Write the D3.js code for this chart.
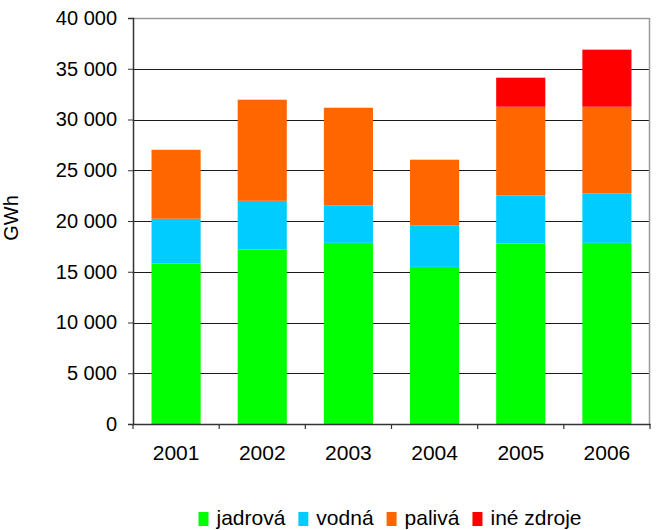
<!DOCTYPE html>
<html>
<head>
<meta charset="utf-8">
<script src="https://cdn.jsdelivr.net/npm/d3@7"></script>
<style>
  html, body { margin: 0; padding: 0; background: #fff; }
  svg { display: block; font-family: "Liberation Sans", Arial, sans-serif; }
</style>
</head>
<body>
<svg id="chart" width="659" height="530"></svg>
<script>
// ---- data ----
const years = ["2001", "2002", "2003", "2004", "2005", "2006"];
const seriesNames = ["jadrová", "vodná", "palivá", "iné zdroje"];
const jadrova = [15810, 17190, 17850, 15480, 17780, 17850];
const vodna   = [4410, 4800, 3680, 4080, 4740, 4860];
const paliva  = [6800, 9960, 9630, 6480, 8740, 8550];
const ine     = [0, 0, 0, 0, 2860, 5620];
const yTicks  = [0, 5000, 10000, 15000, 20000, 25000, 30000, 35000, 40000];
const seriesColors = ["#00FF00", "#00CCFF", "#FF6600", "#FF0000"];
const yTitle = "GWh";

// ---- layout ----
const svg = d3.select("#chart");
const mLeft = 133, mRight = 650, mTop = 18, mBottom = 424;

const rows = years.map((yr, i) => ({
  year: yr,
  "jadrová": jadrova[i], "vodná": vodna[i], "palivá": paliva[i], "iné zdroje": ine[i]
}));
const stack = d3.stack().keys(seriesNames)(rows);

const x = d3.scaleBand().domain(years).range([mLeft, mRight])
  .paddingInner(0.43).paddingOuter(0.215);
const y = d3.scaleLinear().domain([0, 40000]).range([mBottom, mTop]);
const color = d3.scaleOrdinal().domain(seriesNames).range(seriesColors);

const locale = d3.formatLocale({ decimal: ",", thousands: " ", grouping: [3], currency: ["", ""] });
const fmt = locale.format(",");

// gridlines
svg.append("g").selectAll("line")
  .data(yTicks.filter(t => t > 0 && t < 40000))
  .join("line")
  .attr("x1", mLeft).attr("x2", mRight)
  .attr("y1", d => Math.round(y(d)) + 0.5).attr("y2", d => Math.round(y(d)) + 0.5)
  .attr("stroke", "#1a1a1a").attr("stroke-width", 1.2);

// plot border (top and right, gray)
svg.append("path")
  .attr("d", `M${mLeft},${Math.round(y(40000)) + 0.5}H${mRight - 0.5}V${mBottom}`)
  .attr("fill", "none").attr("stroke", "#9a9a9a").attr("stroke-width", 1.5);

// bars
svg.append("g").selectAll("g")
  .data(stack).join("g")
  .attr("fill", d => color(d.key))
  .selectAll("rect")
  .data(d => d).join("rect")
  .attr("x", d => x(d.data.year))
  .attr("width", x.bandwidth())
  .attr("y", d => y(d[1]))
  .attr("height", d => y(d[0]) - y(d[1]));

// y axis
const yAxis = svg.append("g")
  .attr("transform", `translate(${mLeft},0)`)
  .call(d3.axisLeft(y).tickValues(yTicks).tickFormat(fmt).tickSize(5).tickPadding(11));
yAxis.select(".domain").attr("stroke", "#333").attr("stroke-width", 1.5);
yAxis.selectAll(".tick line").attr("stroke", "#333");
yAxis.selectAll("text").attr("font-size", 20).attr("fill", "#000")
  .attr("font-family", "'Liberation Sans', Arial, sans-serif");

// x axis
const xAxis = svg.append("g")
  .attr("transform", `translate(0,${mBottom})`)
  .call(d3.axisBottom(x).tickSize(0).tickPadding(21));
xAxis.select(".domain").attr("stroke", "#333").attr("stroke-width", 1.5);
xAxis.selectAll("text").attr("font-size", 21).attr("fill", "#000")
  .attr("font-family", "'Liberation Sans', Arial, sans-serif");
// category boundary ticks
const bounds = years.map(yr => x(yr) - x.step() * x.paddingInner() / 2).concat([mRight]);
xAxis.append("g").selectAll("line").data(bounds).join("line")
  .attr("x1", d => d).attr("x2", d => d).attr("y1", 0).attr("y2", 5)
  .attr("stroke", "#333").attr("stroke-width", 1.2);

// y title
svg.append("text")
  .attr("transform", `translate(18,218) rotate(-90)`)
  .attr("text-anchor", "middle")
  .attr("font-size", 20)
  .text(yTitle);

// legend
const legend = svg.append("g");
const items = legend.selectAll("g").data(seriesNames).join("g");
items.append("rect").attr("width", 10).attr("height", 14).attr("y", -13)
  .attr("fill", d => color(d));
items.append("text").attr("x", 18).attr("font-size", 21).text(d => d);
let cx = 0;
const offsets = [];
items.each(function () {
  offsets.push(cx);
  const w = d3.select(this).select("text").node().getComputedTextLength();
  cx += 18 + w + 13;
});
const totalW = cx - 13;
const startX = 390 - totalW / 2;
items.attr("transform", (d, i) => `translate(${startX + offsets[i]},525)`);
</script>
</body>
</html>
